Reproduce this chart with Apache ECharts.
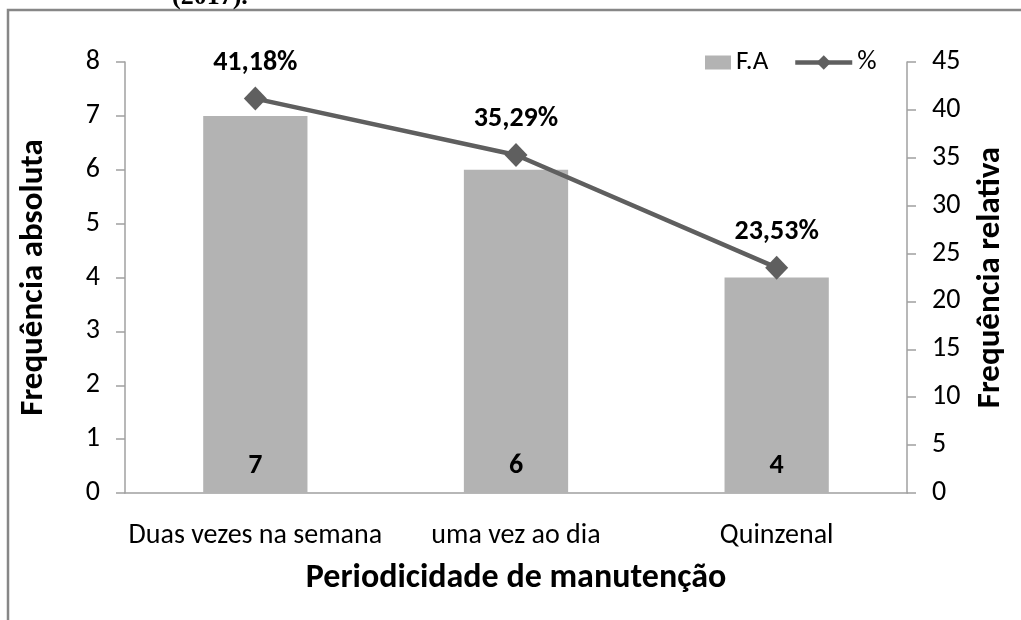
<!DOCTYPE html>
<html>
<head>
<meta charset="utf-8">
<script src="https://cdn.jsdelivr.net/npm/echarts@6/dist/echarts.min.js"></script>
<style>html,body{margin:0;padding:0;background:#fff}#c{width:1021px;height:620px}</style>
</head>
<body>
<div id="c"></div>
<script>
const categories = ['Duas vezes na semana', 'uma vez ao dia', 'Quinzenal'];
const freqAbs = [7, 6, 4];
const freqRel = [41.18, 35.29, 23.53];
const FONT = "Carlito, 'Liberation Sans Narrow', 'Open Sans', sans-serif";
const chart = echarts.init(document.getElementById('c'));
chart.setOption({
  animation: false,
  backgroundColor: '#fff',
  graphic: [
    {type: 'rect', shape: {x: 8, y: 10, width: 1200, height: 800},
     style: {fill: 'none', stroke: '#878787', lineWidth: 2.5}},
    {type: 'text', left: 172, top: -16,
     style: {text: '(2017).', font: "bold 26px 'Liberation Serif', serif", fill: '#000'}}
  ],
  legend: [
    {left: 700, top: 44, itemWidth: 26, itemHeight: 14,
     textStyle: {fontFamily: FONT, fontSize: 27, color: '#000'},
     data: [{name: 'F.A', icon: 'rect'}]},
    {left: 788, top: 44, itemWidth: 57, itemHeight: 18,
     lineStyle: {width: 4.5},
     textStyle: {fontFamily: FONT, fontSize: 27, color: '#000'},
     data: [{name: '%'}]}
  ],
  grid: {left: 125, right: 114, top: 62, bottom: 127},
  xAxis: {
    type: 'category', data: categories,
    name: 'Periodicidade de manutenção', nameLocation: 'middle', nameGap: 68,
    nameTextStyle: {fontFamily: FONT, fontSize: 34, fontWeight: 'bold', color: '#000'},
    axisLine: {lineStyle: {color: '#a0a0a0', width: 1.5}},
    axisTick: {show: false},
    axisLabel: {fontFamily: FONT, fontSize: 28, color: '#000', margin: 29, interval: 0}
  },
  yAxis: [
    {type: 'value', min: 0, max: 8, interval: 1,
     name: 'Frequência absoluta', nameLocation: 'middle', nameGap: 75,
     nameTextStyle: {fontFamily: FONT, fontSize: 33, fontWeight: 'bold', color: '#000'},
     axisLine: {show: true, lineStyle: {color: '#a0a0a0', width: 1.5}},
     axisTick: {show: true, length: 9, lineStyle: {color: '#a0a0a0', width: 1.5}},
     splitLine: {show: false},
     axisLabel: {fontFamily: FONT, fontSize: 28, color: '#000', margin: 25}},
    {type: 'value', min: 0, max: 45, interval: 5, position: 'right',
     name: 'Frequência relativa', nameLocation: 'middle', nameGap: 67,
     nameRotate: 90,
     nameTextStyle: {fontFamily: FONT, fontSize: 33, fontWeight: 'bold', color: '#000'},
     axisLine: {show: true, lineStyle: {color: '#a0a0a0', width: 1.5}},
     axisTick: {show: true, length: 9, lineStyle: {color: '#a0a0a0', width: 1.5}},
     splitLine: {show: false},
     axisLabel: {fontFamily: FONT, fontSize: 28, color: '#000', margin: 25}}
  ],
  series: [
    {name: 'F.A', type: 'bar', data: freqAbs, barWidth: '40%',
     itemStyle: {color: '#b3b3b3'},
     label: {show: true, position: 'insideBottom', distance: 13,
       fontFamily: FONT, fontSize: 28, fontWeight: 'bold', color: '#000'}},
    {name: '%', type: 'line', yAxisIndex: 1, data: freqRel,
     symbol: 'diamond', symbolSize: [23, 24],
     lineStyle: {color: '#5f5f5f', width: 4.5},
     itemStyle: {color: '#5f5f5f'},
     label: {show: true, position: 'top', distance: 10,
       formatter: p => p.value.toFixed(2).replace('.', ',') + '%',
       fontFamily: FONT, fontSize: 28, fontWeight: 'bold', color: '#000'}}
  ]
});
</script>
</body>
</html>
